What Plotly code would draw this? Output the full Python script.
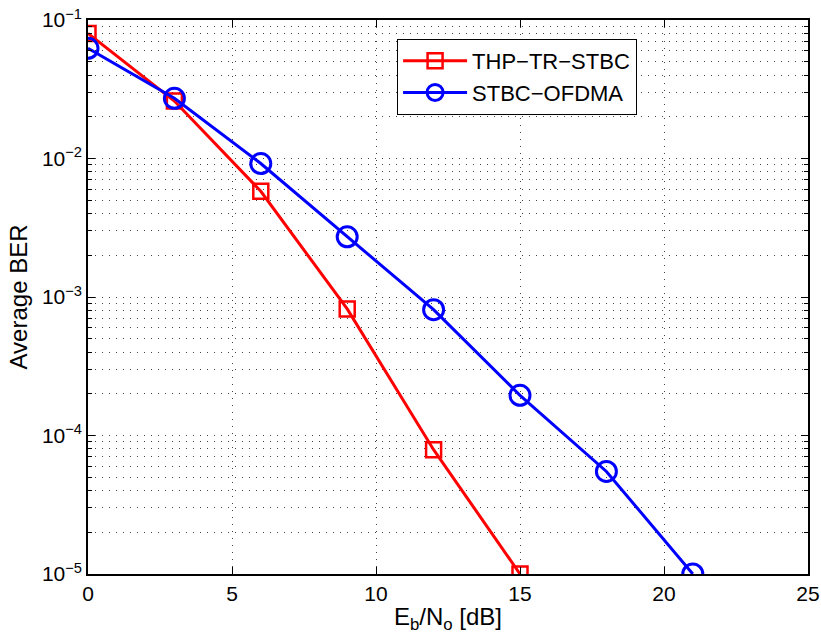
import plotly.graph_objects as go

x_thp = [0, 3, 6, 9, 12, 15]
ber_thp = [0.080, 0.026, 0.0058, 8.2e-4, 7.9e-5, 1.0e-5]
x_ofdma = [0, 3, 6, 9, 12, 15, 18, 21]
ber_ofdma = [0.0625, 0.0272, 0.0092, 0.00272, 8.1e-4, 1.95e-4, 5.5e-5, 1.0e-5]

x_ticks = [0, 5, 10, 15, 20, 25]
y_ticks = [1e-5, 1e-4, 1e-3, 1e-2, 1e-1]
y_ticktext = ["10<sup>\u22125</sup>", "10<sup>\u22124</sup>", "10<sup>\u22123</sup>",
              "10<sup>\u22122</sup>", "10<sup>\u22121</sup>"]
y_minor = [m * 10.0 ** e for e in range(-5, -1) for m in range(2, 10)]

font = "Liberation Sans, Arial, sans-serif"

fig = go.Figure()
fig.add_trace(go.Scatter(
    x=x_thp, y=ber_thp, name="THP\u2212TR\u2212STBC", mode="lines+markers",
    line=dict(color="#ff0000", width=3),
    marker=dict(symbol="square-open", size=15, color="#ff0000", line=dict(width=2.5))))
fig.add_trace(go.Scatter(
    x=x_ofdma, y=ber_ofdma, name="STBC\u2212OFDMA", mode="lines+markers",
    line=dict(color="#0000ff", width=3),
    marker=dict(symbol="circle-open", size=20, color="#0000ff", line=dict(width=3))))

axis_common = dict(
    showline=True, linecolor="black", linewidth=1.5, mirror="allticks",
    ticks="inside", tickcolor="black", ticklen=7, tickwidth=1,
    showgrid=True, gridcolor="#444444", gridwidth=1, griddash="1px,6px",
    zeroline=False, automargin=False,
)
tick_font = dict(family=font, size=21, color="black")

fig.update_layout(
    width=821, height=642,
    margin=dict(l=88, r=13, t=20, b=67.5),
    paper_bgcolor="white", plot_bgcolor="white",
    font=dict(family=font, color="black", size=21),
    showlegend=True,
    legend=dict(x=0.429, y=0.966, xanchor="left", yanchor="top",
                bgcolor="white", bordercolor="black", borderwidth=1.2,
                font=dict(family=font, size=22, color="black"),
                itemwidth=64, tracegroupgap=0),
    xaxis=dict(axis_common, range=[0, 25], tickvals=x_ticks, tickfont=tick_font,
               title=dict(text="E<sub>b</sub>/N<sub>o</sub> [dB]",
                          font=dict(family=font, size=24), standoff=4)),
    yaxis=dict(axis_common, type="log", range=[-5, -1], tickvals=y_ticks,
               ticktext=y_ticktext, tickfont=tick_font,
               minor=dict(tickvals=y_minor, ticks="inside", ticklen=4,
                          tickcolor="black", showgrid=True, gridcolor="#444444",
                          griddash="1px,6px", gridwidth=1),
               title=dict(text="Average BER", font=dict(family=font, size=24),
                          standoff=8)),
)

fig.write_html("out.html")
